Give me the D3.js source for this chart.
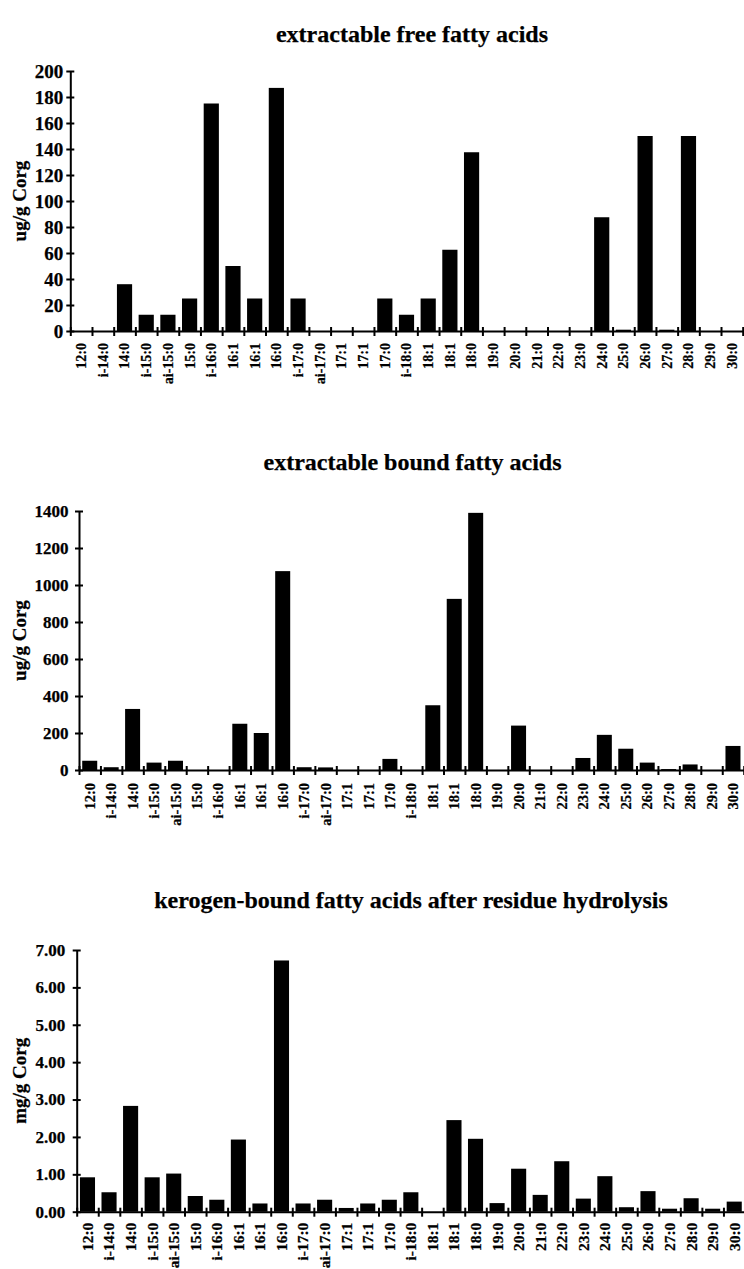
<!DOCTYPE html>
<html>
<head>
<meta charset="utf-8">
<script src="https://cdn.jsdelivr.net/npm/d3@7"></script>
<style>
  body { margin: 0; background: #fff; }
  svg { display: block; }
  text { font-family: "Liberation Serif", "Times New Roman", serif; font-weight: bold; fill: #000;
         stroke: #000; stroke-width: 0.25px; }
</style>
</head>
<body>
<svg id="fig" width="744" height="1269"></svg>
<script>
// Fatty acid categories (shared by all three panels)
const categories = ["12:0","i-14:0","14:0","i-15:0","ai-15:0","15:0","i-16:0","16:1","16:1","16:0",
  "i-17:0","ai-17:0","17:1","17:1","17:0","i-18:0","18:1","18:1","18:0","19:0",
  "20:0","21:0","22:0","23:0","24:0","25:0","26:0","27:0","28:0","29:0","30:0"];

// Extractable free fatty acids, ug/g Corg
const freeValues = [0,0,36,12.5,12.5,25,175,50,25,187,
  25,0,0,0,25,12.5,25,62.5,137.5,0,
  0,0,0,0,87.5,1,150,1,150,0,0];

// Extractable bound fatty acids, ug/g Corg
const boundValues = [50,15,330,40,50,0,0,250,200,1075,
  15,14,0,0,60,0,350,925,1390,0,
  240,0,0,65,190,115,40,5,30,0,130];

// Kerogen-bound fatty acids after residue hydrolysis, mg/g Corg
const kerogenValues = [0.92,0.52,2.83,0.92,1.02,0.42,0.32,1.93,0.22,6.72,
  0.22,0.32,0.10,0.22,0.32,0.52,0,2.45,1.95,0.23,
  1.15,0.45,1.35,0.35,0.95,0.12,0.55,0.08,0.36,0.08,0.27];

// Y tick values for each panel
const freeTicks = [0,20,40,60,80,100,120,140,160,180,200];
const boundTicks = [0,200,400,600,800,1000,1200,1400];
const kerogenTicks = [0,1,2,3,4,5,6,7];

const titles = ["extractable free fatty acids",
  "extractable bound fatty acids",
  "kerogen-bound fatty acids after residue hydrolysis"];
const yTitles = ["ug/g Corg", "ug/g Corg", "mg/g Corg"];

const svg = d3.select("#fig");

const panels = [
  { values: freeValues, ticks: freeTicks, fmt: d3.format("d"), max: 200,
    title: titles[0], yTitle: yTitles[0],
    left: 70.3, right: 742.7, top: 71, base: 331, titleY: 42, titleX: 412,
    yFont: 19, yGap: 7, xFont: 14, xGap: 12 },
  { values: boundValues, ticks: boundTicks, fmt: d3.format("d"), max: 1400,
    title: titles[1], yTitle: yTitles[1],
    left: 79, right: 743.7, top: 511, base: 770, titleY: 470, titleX: 412.5,
    yFont: 17, yGap: 10.5, xFont: 14.5, xGap: 13 },
  { values: kerogenValues, ticks: kerogenTicks, fmt: d3.format(".2f"), max: 7,
    title: titles[2], yTitle: yTitles[2],
    left: 76.7, right: 745, top: 950, base: 1211.7, titleY: 908, titleX: 411,
    yFont: 17, yGap: 11.5, xFont: 15.5, xGap: 11 }
];

panels.forEach(p => {
  const g = svg.append("g");

  const x = d3.scaleBand()
    .domain(d3.range(categories.length))
    .range([p.left, p.right])
    .paddingInner(0.3)
    .paddingOuter(0.15);

  const y = d3.scaleLinear().domain([0, p.max]).range([p.base, p.top]);

  // title
  g.append("text")
    .attr("x", p.titleX).attr("y", p.titleY)
    .attr("text-anchor", "middle")
    .style("font-size", "24px")
    .text(p.title);

  // y axis title
  g.append("text")
    .attr("transform", `translate(26,${(p.top + p.base) / 2}) rotate(-90)`)
    .attr("text-anchor", "middle")
    .style("font-size", "19px")
    .text(p.yTitle);

  // bars
  g.append("g").selectAll("rect")
    .data(p.values)
    .join("rect")
    .attr("x", (d, i) => x(i))
    .attr("width", x.bandwidth())
    .attr("y", d => y(d))
    .attr("height", d => y(0) - y(d))
    .attr("fill", "#000");

  // y axis
  const yAxis = g.append("g")
    .attr("transform", `translate(${p.left},0)`)
    .call(d3.axisLeft(y).tickValues(p.ticks).tickFormat(p.fmt).tickSize(0).tickPadding(p.yGap));
  yAxis.select(".domain").attr("stroke", "#000").attr("stroke-width", 2);
  yAxis.selectAll(".tick line").attr("x1", -4).attr("x2", 4)
    .attr("stroke", "#000").attr("stroke-width", 2);
  yAxis.selectAll(".tick text")
    .style("font-size", p.yFont + "px")
    .style("font-family", "'Liberation Serif', serif")
    .style("font-weight", "bold");

  // x axis: boundary ticks between categories
  const edge = d3.scaleLinear().domain([0, categories.length]).range([p.left, p.right]);
  const xEdge = g.append("g")
    .attr("transform", `translate(0,${p.base})`)
    .call(d3.axisBottom(edge).tickValues(d3.range(categories.length + 1)).tickFormat("").tickSize(0));
  xEdge.select(".domain").attr("stroke", "#000").attr("stroke-width", 2);
  xEdge.selectAll(".tick line").attr("y1", -4).attr("y2", 5)
    .attr("stroke", "#000").attr("stroke-width", 2);

  // x category labels, rotated
  const xLab = g.append("g")
    .attr("transform", `translate(0,${p.base})`)
    .call(d3.axisBottom(x).tickFormat(i => categories[i]).tickSize(0));
  xLab.select(".domain").remove();
  xLab.selectAll(".tick text")
    .attr("transform", "rotate(-90)")
    .attr("x", -p.xGap).attr("y", 0).attr("dy", "0.35em")
    .attr("text-anchor", "end")
    .style("font-size", p.xFont + "px")
    .style("font-family", "'Liberation Serif', serif")
    .style("font-weight", "bold");
});
</script>
</body>
</html>
